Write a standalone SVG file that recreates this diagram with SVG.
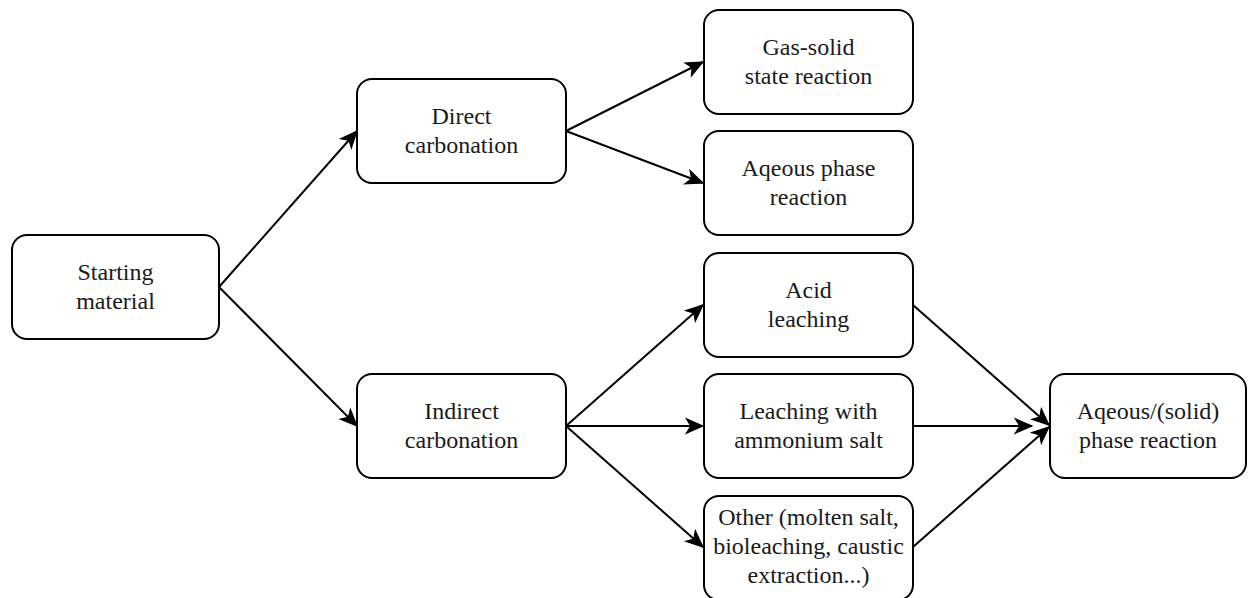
<svg xmlns="http://www.w3.org/2000/svg" width="1248" height="598" viewBox="0 0 1248 598">
<style>
.box{fill:#fff;stroke:#000;stroke-width:2}
.t{font-family:'Liberation Serif','Times New Roman',serif;font-size:24px;fill:#1a1a1a;text-anchor:middle}
.c{fill:none;stroke:#000;stroke-width:2}
</style>
<defs>
<marker id="ah" markerUnits="userSpaceOnUse" markerWidth="20" markerHeight="20" viewBox="-16 -8 18 16" refX="0" refY="0" orient="auto">
<path d="M-15,-6.5 L0,0 L-15,6.5 L-11,0 Z" fill="#000" stroke="#000" stroke-width="1"/>
</marker>
</defs>
<g id="connectors">
<line class="c" x1="219" y1="287" x2="357" y2="131" marker-end="url(#ah)"/>
<line class="c" x1="219" y1="287" x2="357" y2="426" marker-end="url(#ah)"/>
<line class="c" x1="566" y1="131" x2="703" y2="62" marker-end="url(#ah)"/>
<line class="c" x1="566" y1="131" x2="703" y2="183" marker-end="url(#ah)"/>
<line class="c" x1="566" y1="426" x2="703" y2="305" marker-end="url(#ah)"/>
<line class="c" x1="566" y1="426" x2="703" y2="426" marker-end="url(#ah)"/>
<line class="c" x1="566" y1="426" x2="703" y2="547" marker-end="url(#ah)"/>
<line class="c" x1="913" y1="305" x2="1049" y2="425" marker-end="url(#ah)"/>
<line class="c" x1="913" y1="426" x2="1032" y2="426" marker-end="url(#ah)"/>
<line class="c" x1="913" y1="547" x2="1049" y2="427" marker-end="url(#ah)"/>
</g>
<g id="starting">
<rect class="box" x="12" y="235" width="207" height="104" rx="15"/>
<text class="t" x="115.5" y="280">Starting</text>
<text class="t" x="115.5" y="309">material</text>
</g>
<g id="direct">
<rect class="box" x="357" y="79" width="209" height="104" rx="15"/>
<text class="t" x="461.5" y="124">Direct</text>
<text class="t" x="461.5" y="153">carbonation</text>
</g>
<g id="indirect">
<rect class="box" x="357" y="374" width="209" height="104" rx="15"/>
<text class="t" x="461.5" y="419">Indirect</text>
<text class="t" x="461.5" y="448">carbonation</text>
</g>
<g id="gassolid">
<rect class="box" x="704" y="10" width="209" height="104" rx="15"/>
<text class="t" x="808.5" y="55">Gas-solid</text>
<text class="t" x="808.5" y="84">state reaction</text>
</g>
<g id="aqeous">
<rect class="box" x="704" y="131" width="209" height="104" rx="15"/>
<text class="t" x="808.5" y="176">Aqeous phase</text>
<text class="t" x="808.5" y="205">reaction</text>
</g>
<g id="acid">
<rect class="box" x="704" y="253" width="209" height="104" rx="15"/>
<text class="t" x="808.5" y="298">Acid</text>
<text class="t" x="808.5" y="327">leaching</text>
</g>
<g id="ammonium">
<rect class="box" x="704" y="374" width="209" height="104" rx="15"/>
<text class="t" x="808.5" y="419">Leaching with</text>
<text class="t" x="808.5" y="448">ammonium salt</text>
</g>
<g id="other">
<rect class="box" x="704" y="496" width="209" height="104" rx="15"/>
<text class="t" x="808.5" y="525">Other (molten salt,</text>
<text class="t" x="808.5" y="554">bioleaching, caustic</text>
<text class="t" x="808.5" y="583">extraction...)</text>
</g>
<g id="final">
<rect class="box" x="1050" y="374" width="196" height="104" rx="15"/>
<text class="t" x="1148" y="419">Aqeous/(solid)</text>
<text class="t" x="1148" y="448">phase reaction</text>
</g>
</svg>
